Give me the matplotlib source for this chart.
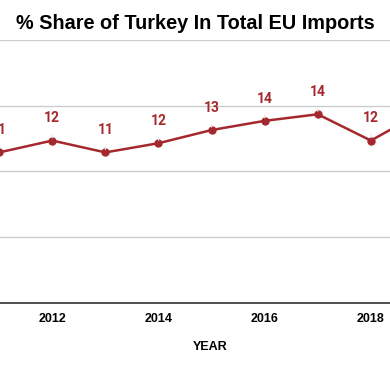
import matplotlib
matplotlib.use("Agg")
import matplotlib.pyplot as plt

## Data
years = [2011, 2012, 2013, 2014, 2015, 2016, 2017, 2018, 2019]
share = [11.45, 12.35, 11.45, 12.15, 13.15, 13.85, 14.35, 12.35, 14.6]
xticks = [2012, 2014, 2016, 2018]
yticks = [0, 5, 10, 15, 20]

red = "#a4282d"
xmin, xmax = 2011.015, 2018.36

fig = plt.figure(figsize=(3.9, 3.71), dpi=100)
ax = fig.add_axes([0, 0.1833, 1, 0.709])

ax.plot(years, share, color=red, lw=1.8, marker="o", ms=5, zorder=3)

# value labels with thin leader lines (the 2019 one falls outside the crop)
for x, y in zip(years, share):
    if x > xmax:
        continue
    ax.annotate(f"{y:.0f}", xy=(x, y), xytext=(0, 16), textcoords="offset points",
                ha="center", va="center", color=red, fontsize=10,
                family="Roboto", fontweight="bold", annotation_clip=False,
                arrowprops=dict(arrowstyle="-", color="#e2e2e2", lw=0.8,
                                shrinkA=5, shrinkB=2))

ax.set_xlim(xmin, xmax)
ax.set_ylim(0, 20)
ax.set_xticks(xticks)
ax.set_xticklabels([str(t) for t in xticks], family="Liberation Sans",
                   fontweight="bold", fontsize=9)
ax.set_yticks(yticks)
ax.set_yticklabels([])
ax.tick_params(axis="both", length=0, pad=7)
ax.grid(axis="y", color="#cccccc", lw=1)
ax.set_axisbelow(True)
for s in ["top", "left", "right"]:
    ax.spines[s].set_visible(False)
ax.spines["bottom"].set_color("#333333")
ax.spines["bottom"].set_linewidth(1.2)

fig.text(0.5, 0.938, "% Share of Turkey In Total EU Imports", ha="center", va="center",
         family="Liberation Sans", fontweight="bold", fontsize=14.3)
fig.text(210 / 390, 1 - 347 / 371, "YEAR", ha="center", va="center",
         family="Liberation Sans", fontweight="bold", fontsize=9)

fig.savefig("out.png", dpi=100)
